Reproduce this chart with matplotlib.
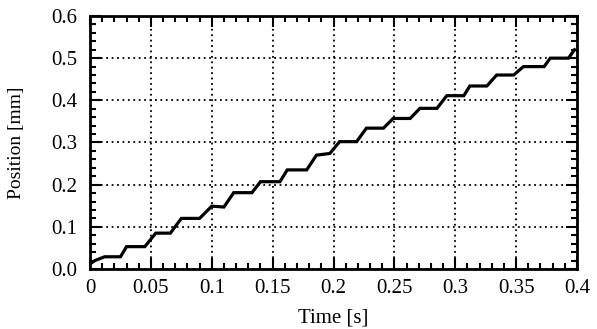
import numpy as np
import matplotlib
matplotlib.use("Agg")
import matplotlib.pyplot as plt
from matplotlib.ticker import MultipleLocator

# staircase corners
time_s = [0.000, 0.004, 0.012, 0.025, 0.030, 0.045, 0.054, 0.066, 0.075, 0.090,
          0.100, 0.110, 0.118, 0.133, 0.140, 0.156, 0.162, 0.178, 0.186, 0.197,
          0.205, 0.219, 0.227, 0.241, 0.249, 0.263, 0.271, 0.285, 0.293, 0.307,
          0.312, 0.326, 0.334, 0.348, 0.356, 0.373, 0.378, 0.393, 0.398]
pos_mm = [0.012, 0.020, 0.029, 0.029, 0.053, 0.053, 0.085, 0.085, 0.120, 0.120,
          0.149, 0.147, 0.181, 0.181, 0.207, 0.207, 0.235, 0.235, 0.270, 0.274,
          0.302, 0.302, 0.334, 0.334, 0.357, 0.357, 0.381, 0.381, 0.411, 0.411,
          0.434, 0.434, 0.460, 0.460, 0.480, 0.480, 0.500, 0.500, 0.520]

x_ticks = [0, 0.05, 0.1, 0.15, 0.2, 0.25, 0.3, 0.35, 0.4]
x_labels = ["0", "0.05", "0.1", "0.15", "0.2", "0.25", "0.3", "0.35", "0.4"]
y_ticks = [0.0, 0.1, 0.2, 0.3, 0.4, 0.5, 0.6]
y_labels = ["0.0", "0.1", "0.2", "0.3", "0.4", "0.5", "0.6"]

plt.rcParams["font.family"] = ["Liberation Serif", "DejaVu Serif"]
plt.rcParams["font.size"] = 15

fig = plt.figure(figsize=(5.97, 3.29), dpi=100)
ax = fig.add_axes([0.1508, 0.1824, 0.8157, 0.769])

ax.plot(time_s, pos_mm, color="black", lw=2.3, solid_joinstyle="miter")

ax.set_xlim(0, 0.4)
ax.set_ylim(0, 0.6)
ax.set_xticks(x_ticks)
ax.set_xticklabels(x_labels)
ax.set_yticks(y_ticks)
ax.set_yticklabels(y_labels)
ax.xaxis.set_minor_locator(MultipleLocator(0.01))
ax.yaxis.set_minor_locator(MultipleLocator(0.02))
ax.tick_params(which="both", direction="in", top=True, right=True, color="black", width=1.5)
ax.tick_params(which="major", length=8)
ax.tick_params(which="minor", length=4.5)
ax.tick_params(axis="x", which="major", pad=7)
ax.tick_params(axis="y", which="major", pad=9)
for s in ax.spines.values():
    s.set_linewidth(2)

ax.grid(True, which="major", color="black", linestyle=(0, (1, 2)), linewidth=1.3)

ax.set_xlabel("Time [s]", fontsize=15)
ax.set_ylabel("Position [mm]", fontsize=14)
ax.xaxis.set_label_coords(0.5, -0.155)
ax.yaxis.set_label_coords(-0.133, 0.5)

fig.savefig("out.png", dpi=100)
